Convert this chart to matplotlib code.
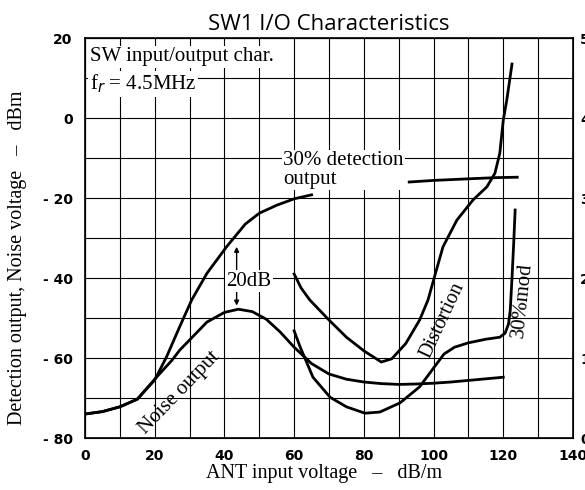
import matplotlib
matplotlib.use("Agg")
import matplotlib.pyplot as plt

# values
det_x = [0, 5, 10, 15, 20, 23.4, 27, 30.6, 35, 40.6, 46, 50, 55, 60, 65]
det_y = [-74, -73.4, -72.2, -70.3, -65.5, -59.7, -52.5, -45.5, -38.8, -32.2, -26.5, -23.8,
         -21.8, -20.2, -19.2]
det_hi_x = [93, 100, 110, 118, 124]
det_hi_y = [-16, -15.6, -15.2, -14.9, -14.8]

noise_x = [0, 5, 10, 15, 20, 25, 27.2, 30, 35, 40, 44, 48, 52, 56, 60, 65, 70, 75, 80, 85,
           90, 95, 100, 105, 110, 115, 120]
noise_y = [-74, -73.4, -72.2, -70.3, -65.3, -60.5, -58, -55.5, -51, -48.6, -47.8, -48.4,
           -50.3, -53.5, -57.3, -61.4, -64, -65.3, -66, -66.4, -66.6, -66.5, -66.3, -66,
           -65.6, -65.2, -64.8]

dist_x = [60, 62, 64.5, 70, 75, 80, 85, 88, 92, 96, 98.4, 100, 102.7, 106.7, 111.3, 115.3,
          117.6, 119, 120, 121, 122.5]
dist_y = [-39, -42.5, -45.5, -50.5, -54.8, -58.2, -61, -60.2, -56.4, -50.5, -45.5, -40.5,
          -32.2, -25.5, -20.5, -17.2, -13.8, -8.8, -0.5, 4.5, 13.5]

mod_x = [60, 61.7, 65.4, 70.3, 75, 80.3, 84.6, 90.4, 96, 100, 103, 106, 110, 115, 119,
         120.5, 121.5, 122, 122.5, 123, 123.4]
mod_y = [-53.2, -57.2, -64.8, -69.8, -72.2, -73.8, -73.5, -71.2, -67.2, -62.5, -59, -57.3,
         -56.2, -55.3, -54.8, -53.8, -51.5, -48, -40, -31, -23]

x_ticks = [0, 20, 40, 60, 80, 100, 120, 140]
y_ticks = [-80, -60, -40, -20, 0, 20]
y2_ticks = [0, 1, 2, 3, 4, 5]

serif = "Liberation Serif"

fig = plt.figure(figsize=(5.85, 4.9), dpi=100)
ax = fig.add_axes([0.1453, 0.1061, 0.8342, 0.8163])

ax.set_xlim(0, 140)
ax.set_ylim(-80, 20)
ax.set_xticks(range(0, 141, 10), minor=True)
ax.set_yticks(range(-80, 21, 10), minor=True)
ax.set_xticks(x_ticks)
ax.set_yticks(y_ticks)
ax.set_xticklabels([str(v) for v in x_ticks], fontsize=10, fontweight="bold")
ax.set_yticklabels([str(v).replace("-", "- ") for v in y_ticks], fontsize=10,
                   fontweight="bold")
ax.grid(True, which="both", color="black", linewidth=0.8)
ax.tick_params(which="both", length=0)
ax.tick_params(axis="x", pad=8)
ax.tick_params(axis="y", pad=9)
for s in ax.spines.values():
    s.set_linewidth(1.2)

lw = 2.0
ax.plot(det_x, det_y, color="black", lw=lw)
ax.plot(det_hi_x, det_hi_y, color="black", lw=lw)
ax.plot(noise_x, noise_y, color="black", lw=lw)
ax.plot(dist_x, dist_y, color="black", lw=lw)
ax.plot(mod_x, mod_y, color="black", lw=lw)

ax2 = ax.twinx()
ax2.set_ylim(0, 5)
ax2.set_yticks(y2_ticks)
ax2.set_yticklabels([str(v) for v in y2_ticks], fontsize=10, fontweight="bold")
ax2.tick_params(length=0, pad=5)

ax.set_title("SW1 I/O Characteristics", fontsize=16, family="Open Sans", pad=6)
ax.set_xlabel("ANT input voltage   –   dB/m", fontsize=14.5, family=serif)
ax.set_ylabel("Detection output, Noise voltage   –   dBm", fontsize=14.5, family=serif)
ax.xaxis.set_label_coords(0.49, -0.065)
ax.yaxis.set_label_coords(-0.118, 0.45)

box = dict(facecolor="white", edgecolor="none", pad=1)
ax.text(1.4, 15.3, "SW input/output char.", fontsize=15, family=serif, va="center",
        bbox=box)
ax.text(1.4, 8.5, "f$_r$ = 4.5MHz", fontsize=15, family=serif, va="center", bbox=box)
ax.text(56.8, -13, "30% detection\noutput", fontsize=15, family=serif, va="center",
        linespacing=0.95, bbox=box)
ax.annotate("", xy=(43.5, -31.5), xytext=(43.5, -47.6),
            arrowprops=dict(arrowstyle="<|-|>", color="black", lw=1, mutation_scale=7))
ax.text(47, -40.8, "20dB", fontsize=15, family=serif, ha="center", va="center", bbox=box)
ax.text(27.2, -68.8, "Noise output", fontsize=15, family=serif, ha="center", va="center",
        rotation=46)
ax.text(102.7, -50.5, "Distortion", fontsize=14.5, family=serif, ha="center", va="center",
        rotation=65)
ax.text(125.6, -45.5, "30%mod", fontsize=15, family=serif, ha="center", va="center",
        rotation=84)

fig.savefig("out.png", dpi=100)
